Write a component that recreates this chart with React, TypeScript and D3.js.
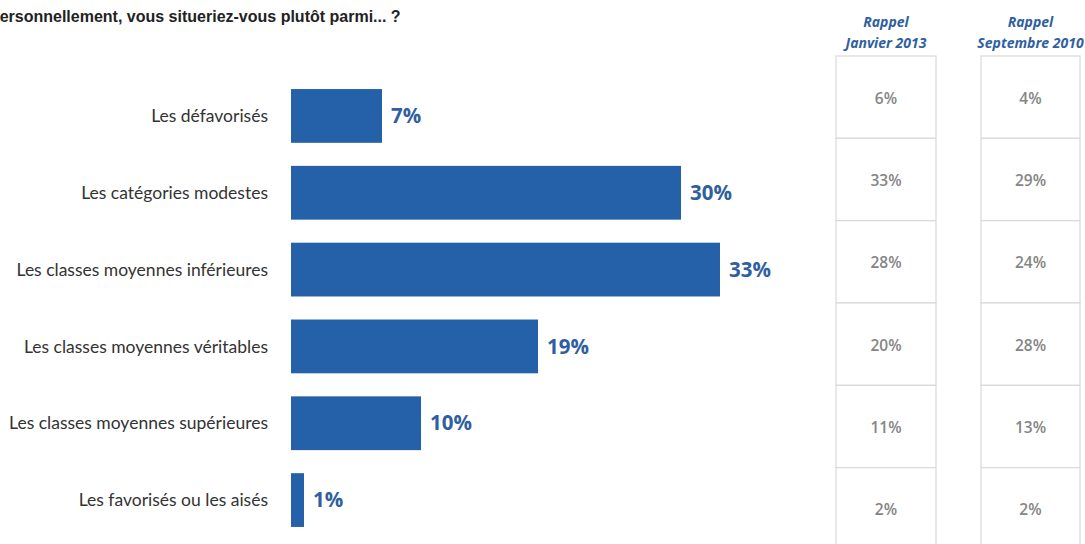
import React from "react";
import * as d3 from "d3";

const title = "Personnellement, vous situeriez-vous plutôt parmi... ?";
const categories = [
  "Les défavorisés",
  "Les catégories modestes",
  "Les classes moyennes inférieures",
  "Les classes moyennes véritables",
  "Les classes moyennes supérieures",
  "Les favorisés ou les aisés",
];
const current = [7, 30, 33, 19, 10, 1];
const jan2013 = [6, 33, 28, 20, 11, 2];
const sep2010 = [4, 29, 24, 28, 13, 2];
const tableHeaders = [
  ["Rappel", "Janvier 2013"],
  ["Rappel", "Septembre 2010"],
];

const W = 1085;
const H = 544;
const BLUE = "#2561a8";
const LABEL_BLUE = "#2f5f9f";

export default function App() {
  const x = d3.scaleLinear().domain([0, 35]).range([291, 291 + 13 * 35]);
  const y = d3
    .scaleBand<string>()
    .domain(categories)
    .range([66, 550])
    .paddingInner(0.3)
    .paddingOuter(0.3);

  const cols = [
    { x0: 836, x1: 936, values: jan2013, header: tableHeaders[0] },
    { x0: 981, x1: 1080, values: sep2010, header: tableHeaders[1] },
  ];
  const rowScale = d3.scaleBand<string>().domain(categories).range([56, 550]);

  const catFont = "Lato, 'Open Sans', sans-serif";
  const calFont = "'Open Sans', Lato, sans-serif";

  return (
    <svg
      width={W}
      height={H}
      style={{ position: "absolute", left: 0, top: 0, background: "#fff" }}
    >
      <text
        x={-11}
        y={22}
        fontFamily="'Liberation Sans', Arial, sans-serif"
        fontWeight="bold"
        fontSize={16}
        fill="#222"
      >
        {title}
      </text>

      {categories.map((c, i) => {
        const yb = y(c)!;
        const bh = y.bandwidth();
        return (
          <g key={c}>
            <text
              x={268}
              y={yb + bh / 2}
              dy="0.35em"
              textAnchor="end"
              fontFamily={catFont}
              fontSize={17.5}
              fill="#333"
            >
              {c}
            </text>
            <rect x={x(0)} y={yb} width={x(current[i]) - x(0)} height={bh} fill={BLUE} />
            <text
              x={x(current[i]) + 9}
              y={yb + bh / 2}
              dy="0.35em"
              fontFamily={calFont}
              fontWeight="bold"
              fontSize={20.5}
              fill={LABEL_BLUE}
            >
              {current[i]}%
            </text>
          </g>
        );
      })}

      {cols.map((col, ci) => {
        const cx = (col.x0 + col.x1) / 2;
        return (
          <g key={ci}>
            <text
              x={cx}
              y={27}
              textAnchor="middle"
              fontFamily={calFont}
              fontStyle="italic"
              fontWeight="bold"
              fontSize={14}
              fill={LABEL_BLUE}
            >
              {col.header[0]}
            </text>
            <text
              x={cx}
              y={48}
              textAnchor="middle"
              fontFamily={calFont}
              fontStyle="italic"
              fontWeight="bold"
              fontSize={14}
              fill={LABEL_BLUE}
            >
              {col.header[1]}
            </text>
            {categories.map((c, i) => {
              const ry = rowScale(c)!;
              const rh = rowScale.bandwidth();
              return (
                <g key={c}>
                  <rect
                    x={col.x0}
                    y={ry}
                    width={col.x1 - col.x0}
                    height={rh}
                    fill="#fff"
                    stroke="#d9d9d9"
                    strokeWidth={1.2}
                  />
                  <text
                    x={cx}
                    y={ry + rh / 2 + 1}
                    dy="0.35em"
                    textAnchor="middle"
                    fontFamily={calFont}
                    fontWeight="600"
                    fontSize={15.5}
                    fill="#858585"
                  >
                    {col.values[i]}%
                  </text>
                </g>
              );
            })}
          </g>
        );
      })}
    </svg>
  );
}
